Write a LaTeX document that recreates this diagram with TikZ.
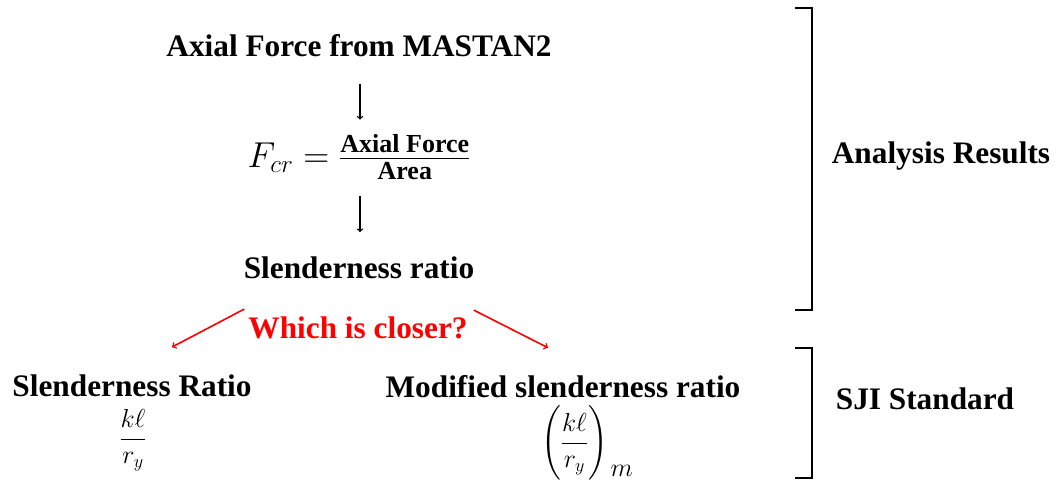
\RequirePackage{fix-cm}
\documentclass[tikz,border=0pt]{standalone}
\usepackage{amsmath}
\usepackage[no-math]{fontspec}
\setmainfont{Liberation Serif}
\usetikzlibrary{arrows}
\tikzset{
  lbl/.style={inner sep=0pt, anchor=base, font=\fontsize{31.3}{36}\selectfont\bfseries},
  mth/.style={inner sep=0pt, anchor=base, font=\fontsize{26}{30}\selectfont},
  varr/.style={-to, line width=1.3pt, black},
  rarr/.style={-to, line width=1.6pt, red},
  brk/.style={line width=1.6pt, black}
}
\begin{document}
\begin{tikzpicture}[x=1pt,y=-1pt]
\useasboundingbox (0,0) rectangle (1056,480);
\node[lbl] (title) at (359,56) {Axial Force from MASTAN2};
\node[inner sep=0pt, anchor=base, font=\fontsize{36}{42}\selectfont] (fcr) at (359,167)
  {$F_{cr}=\frac{\hbox{\fontsize{26}{30}\selectfont\bfseries Axial Force}}{\hbox{\fontsize{26}{30}\selectfont\bfseries Area}}$};
\node[lbl] (slen) at (359,278) {Slenderness ratio};
\node[lbl, text=red] (which) at (358,338) {Which is closer?};
\node[lbl] (sr) at (132,396) {Slenderness Ratio};
\node[mth] (klr) at (133,445.5) {$\displaystyle\frac{k\ell}{r_y}$};
\node[lbl] (msr) at (563,397) {Modified slenderness ratio};
\node[mth] (klrm) at (587,449.5) {$\displaystyle\Biggl(\frac{k\ell}{r_y}\Biggr)\mkern2mu\raisebox{-27pt}{$m$}$};
\node[lbl] (ar) at (941,163) {Analysis Results};
\node[lbl] (sji) at (925,409) {SJI Standard};
\draw[varr] ([xshift=1pt,yshift=-27pt]title.south) -- ([xshift=1pt,yshift=15pt]fcr.north);
\draw[varr] ([xshift=1pt,yshift=-16pt]fcr.south) -- ([xshift=1pt,yshift=24pt]slen.north);
\draw[rarr] ([xshift=-4pt,yshift=7pt]which.north west) -- ([xshift=40pt,yshift=27pt]sr.north);
\draw[rarr] ([xshift=6pt,yshift=6pt]which.north east) -- ([xshift=-15pt,yshift=27pt]msr.north);
\draw[brk] (795,8) -- (812,8) -- (812,310) -- (795,310);
\draw[brk] (795,348) -- (812,348) -- (812,478) -- (795,478);
\end{tikzpicture}
\end{document}
